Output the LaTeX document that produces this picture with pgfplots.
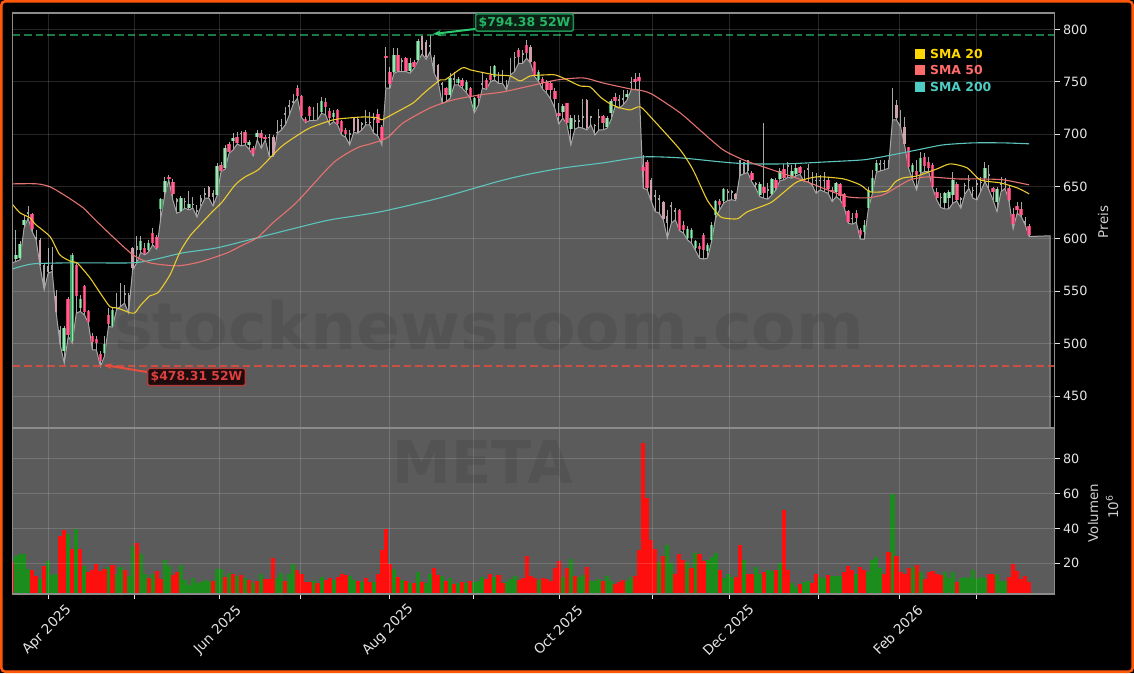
\documentclass[border=0pt]{standalone}
\usepackage{pgfplots}
\usepackage{pgfplotstable}
\usepackage{fontspec}
\setmainfont{DejaVu Sans}
\pgfplotsset{compat=1.18}
\usetikzlibrary{arrows.meta}
\definecolor{areac}{HTML}{5B5B5B}
\definecolor{spinec}{HTML}{8C8C8C}
\definecolor{tickc}{HTML}{E4E4E4}
\definecolor{labc}{HTML}{D0D0D0}
\definecolor{wick}{HTML}{A6A6A6}
\definecolor{smaA}{HTML}{EBCB2E}
\definecolor{smaB}{HTML}{E4726F}
\definecolor{smaC}{HTML}{5CC4BC}
\definecolor{legA}{HTML}{FFD700}
\definecolor{legB}{HTML}{FF6B6B}
\definecolor{legC}{HTML}{4ECDC4}
\definecolor{hiC}{HTML}{2ECC71}
\definecolor{hiT}{HTML}{27B565}
\definecolor{hiE}{HTML}{1F9150}
\definecolor{loC}{HTML}{E74C3C}
\definecolor{loT}{HTML}{DC4040}
\definecolor{loE}{HTML}{B03A3A}
\definecolor{volG}{HTML}{1C8C1C}
\definecolor{volR}{HTML}{FF0E0E}
\definecolor{upE}{HTML}{3F9E62}
\definecolor{upF}{HTML}{A8DDB8}
\definecolor{dnE}{HTML}{D93A68}
\definecolor{dnF}{HTML}{FF5F8F}
\pgfplotstableread{
i k o c h l
-0.87 9 572 572 572 572
-1 0 579 578 605.5 577
0 1 580.7 584.8 608.7 578.5
1 1 581.7 595.3 597.6 580.1
2 1 613.5 618.2 623 610.3
3 0 624.6 625.6 631.6 619.8
4 -1 624 609.3 624.6 607.1
5 0 601.7 600.7 608.7 599.2
6 2 599.2 575.3 600.7 573.7
7 0 575.3 553 576.9 551.5
8 0 573.7 568.9 591.2 567.4
9 0 575.3 570.5 592.2 568.9
10 2 545.1 529.8 551.5 529.2
11 0 513.3 500.6 516.5 499
12 1 492.6 514.9 516.5 481.5
13 -1 542.9 508.5 545 507
14 1 502.2 584.8 586.4 500.6
15 -1 575.3 545.1 576.9 529.2
16 1 534 542.9 546.7 530.8
17 -1 555.3 529.8 555.9 527.6
18 -1 530.8 520.3 532.4 519.7
19 -1 507.6 501.2 510.1 494.2
20 -1 504.4 500.6 506.9 494.2
21 -1 490.4 483.1 492.6 478.3
22 1 491 499.6 506.9 487.9
23 -1 527.6 519 534 516.5
24 1 517.1 532.4 534 515.8
25 0 540.3 538.7 548.3 532.4
26 0 545 543.5 557.8 535.6
27 0 548.3 546.7 556.2 538.7
28 0 546.7 535.6 548.3 529.2
29 2 591.2 572.1 592.2 570.5
30 0 592.8 589.6 603 576.9
31 1 589.6 597.6 603 587.1
32 -1 591.2 585.8 596 584.9
33 1 589 596 599.2 587.7
34 -1 605.5 596.6 610 594.4
35 -1 602.3 591.2 603.9 590.3
36 1 629 638 638.9 619.8
37 1 644.6 655.4 659.6 642.1
38 -1 659.6 657.4 661.2 656.4
39 -1 653.9 642.7 657 637.3
40 0 638 635.7 638.9 624.6
41 1 627.1 638.9 641.1 626.2
42 0 636.4 635.1 638.9 629.4
43 1 630 633.5 645.3 627.8
44 0 633.5 632.6 640.5 629.4
45 0 627.8 626.2 632.6 620.8
46 0 638.9 635.7 642.1 631
47 0 643.7 642.1 648.4 638.9
48 2 650 640.5 650.7 638.9
49 0 643.7 640.5 646.9 631.6
50 1 642.1 669.8 672.3 641.4
51 -1 670.4 665.3 673.3 664.4
52 1 667.5 686.6 689.8 666.6
53 -1 690.7 683.1 693 681.8
54 1 693.6 696.1 700.9 685
55 -1 697.1 692 702.5 690.7
56 0 701.2 700.3 703.5 688.8
57 -1 702.5 692 704 689.8
58 1 689.8 692.3 694.6 685.7
59 -1 686.6 680.9 688.8 679.3
60 1 697.7 700.9 704 694.6
61 -1 700.9 696.1 704 686.6
62 -1 697.1 695.2 699.3 694.6
63 0 697.7 696.2 700.3 678.7
64 2 697.7 680.2 699.3 678.7
65 0 702.5 701.6 713.6 700.9
66 0 708.9 707.9 714.3 704.1
67 0 720 718.4 725.7 708.9
68 0 727.9 726.4 732.7 718.4
69 0 732 730 738 729
70 -1 743.9 736.5 747 734.3
71 -1 736.5 717.5 737.5 716.2
72 -1 714.3 712.1 716.2 711.1
73 -1 725.7 717.5 727 713
74 0 717.5 716.2 725.7 713
75 0 721.6 720 729.5 713.6
76 1 721.6 731.8 735.9 720
77 -1 730.5 726.4 734.3 718.4
78 -1 722.2 715.9 724.8 708.9
79 1 716.2 720 723.2 712.1
80 -1 723.2 709.8 723.8 708.9
81 -1 712.7 702.5 713.6 699.3
82 -1 704.1 700.3 705.7 697.1
83 0 700.9 699.3 704.1 689.8
84 2 715.2 703.1 716.2 701.9
85 2 714.6 702.5 716.2 700.9
86 0 710.5 708.9 712 704.1
87 0 712 710.5 723.2 708.9
88 0 712 710.5 721.6 708.9
89 0 715.2 713.6 720 700.9
90 -1 719.4 711.1 723.8 698.4
91 -1 707.3 694.6 708.9 689.8
92 -1 774.7 772.5 783.6 743.9
93 -1 759.8 748 764.5 743.9
94 1 759.1 775.3 782 758.2
95 -1 775.6 760.7 782 759.8
96 0 770.9 769.3 772.5 759.8
97 -1 772.5 760.7 774 759.8
98 1 760.7 767.7 772.5 758.2
99 -1 769.3 764.5 770.9 762.9
100 1 770.9 789.3 790.6 770.2
101 2 794 780 794.2 776.6
102 2 788.4 774 790 771.5
103 0 785.2 783.6 794.38 778.8
104 0 774 761.3 775.6 758.2
105 2 766.1 751.8 767 750.2
106 0 748.6 747 750.2 729.5
107 -1 743.9 737.5 745.4 731.1
108 1 737.5 753.4 758.2 734.3
109 0 753.4 752.4 759.8 747
110 1 749.3 752.8 755 747
111 -1 751.8 746.4 753.4 743.9
112 1 742.3 750.2 751.8 739.7
113 -1 743.9 736.5 745.4 734.3
114 1 723.8 734.3 735.9 720.6
115 -1 736.5 734.3 738.4 727.9
116 0 748.6 747 758.2 743.9
117 -1 751.8 743.9 753.4 742.9
118 -1 756.6 751.8 765.2 750.2
119 1 755 765.2 766.1 751.8
120 0 756.6 755 759.8 748.6
121 0 758.2 756.6 761.3 748.6
122 0 750.2 748.6 751.8 742.3
123 0 764.5 762.9 772.5 756.6
124 0 774 772.5 778.8 759.8
125 -1 780.4 774 782 767.7
126 0 777.2 775.6 780.4 767.7
127 -1 785.2 777.2 790 772.5
128 2 783.6 769.3 785.2 767.7
129 -1 768.7 756.6 770.2 755
130 1 751.8 759.8 761.3 750.2
131 -1 752.5 748.7 754.4 742.9
132 -1 750.3 742.3 751.8 739.1
133 -1 749.3 742.3 751.2 733.4
134 -1 741.7 733.4 743.9 724.8
135 -1 720.7 716.9 729.6 709.9
136 1 721.6 727 728.9 715.3
137 -1 729.6 710.5 730.2 709.9
138 1 704.8 715.3 718.5 689.8
139 0 713.7 712.1 718.5 704.8
140 0 713.7 712.1 718.5 706.7
141 0 716.9 715.3 733.4 705.7
142 2 732.8 705.7 733.4 704.1
143 0 716.9 715.3 717.5 708.9
144 0 708.9 708 709.9 699.4
145 0 716.9 715.9 724.2 704.1
146 -1 716.9 711.1 718.5 704.1
147 1 706.7 715.9 717.5 705.7
148 1 720.7 731.8 733.4 713.7
149 -1 735.3 732.1 739.1 726.4
150 0 733.4 732.4 737.5 724.8
151 0 734.4 733.4 742.3 728
152 1 735.9 738.2 742.3 732.8
153 0 750.3 749.3 755 742.3
154 -1 752.5 750.3 758.2 742.9
155 -1 754.4 751.2 758.8 742.3
156 -1 668.5 665.3 680.3 648.5
157 -1 673.9 648.5 675.5 646.9
158 2 656.4 637.4 658 635.8
159 0 642.1 640.5 646.9 626.2
160 0 639 637.4 642.1 624.6
161 2 635.1 618.9 635.8 618.3
162 0 622 615.1 627.8 600.8
163 0 632.6 631 634.8 615.1
164 0 627.8 626.2 629.4 618.3
165 -1 627.8 608.7 628.5 608.1
166 -1 613.5 608.7 616.7 605.6
167 1 600.8 609.4 611.9 599.2
168 1 600.8 608.7 610.3 596
169 1 591.3 597.6 599.2 589
170 -1 593.5 590.3 596 581.7
171 -1 604 589 605.6 580.8
172 1 588.1 594.4 596 581.7
173 1 598.6 613.5 615.7 597.6
174 1 623 636.4 637.4 619.9
175 -1 636.7 632.6 638 627.8
176 1 635.8 647.5 648.5 634.2
177 0 645.3 643.7 647.5 636.7
178 0 645.3 643.7 646.9 637.4
179 2 643.1 638 643.7 636.7
180 0 674.9 661.2 675.5 660.3
181 0 673 663.4 673.9 662.2
182 0 674.9 664.4 675.5 663.4
183 -1 663.4 655.8 664.4 654.8
184 0 653.3 652.3 654.8 648.5
185 1 642.1 652.6 653.9 640.5
186 -1 649.4 643.7 710.5 638.9
187 0 647.5 645.3 653.3 638
188 1 643.1 657.1 658 642.1
189 -1 656.4 648.5 658 646.9
190 1 657.1 664.4 667.6 655.8
191 -1 666.6 658 671.7 656.4
192 0 670.8 669.2 673.9 659
193 1 659.6 665 670.8 658
194 1 662.2 667.6 672.3 660.3
195 -1 668.5 663.4 669.7 661.8
196 0 657 656 665.9 654.8
197 0 667.5 666.5 671.3 654.8
198 0 659.6 658.6 664.3 651.6
199 0 656.4 655.4 662.7 643.6
200 0 656.4 655.4 661.1 646.8
201 0 656.4 655.4 664.3 645.2
202 -1 656.4 647.8 658 643.6
203 -1 646.8 644.6 650 635.7
204 1 645.2 653.2 654.8 640.5
205 -1 652.2 641.1 653.2 637.3
206 -1 642.7 630.9 643.6 630
207 -1 626.8 616 627.8 615
208 0 620.4 619.2 624.6 614.1
209 -1 624.6 620.4 627.8 616
210 -1 608.7 604.2 610.9 599.8
211 1 606.4 613.4 618.2 599.8
212 1 629.3 646.8 650 628.7
213 1 644.6 658.6 665.9 643.6
214 1 665 672.3 675.5 663.7
215 0 672.3 671.3 675.5 665
216 0 672.8 672 675.5 666
217 0 673.9 672.9 675.5 667.5
218 0 737.5 736.5 743.8 713.6
219 2 727.9 715.2 732.7 713.6
220 0 715.2 714.2 723.2 707.3
221 2 707.3 690.4 716.8 689.8
222 -1 687.5 669.1 688.2 667.5
223 1 663.7 670.7 672.3 656.4
224 -1 665.3 661.1 675.5 646.8
225 1 663.7 677 683.4 662.7
226 -1 678.6 669.7 681.8 664.3
227 -1 673.9 668.1 678.6 664.3
228 -1 670.7 650 672.3 648.4
229 -1 645.2 639.5 648.4 637.3
230 0 640.5 639.5 643.6 630
231 1 634 643.6 645.2 628.7
232 1 638.9 644.6 646.8 628.7
233 1 642.1 656.4 663.7 634
234 -1 652.6 637.3 654.8 636.3
235 0 638.9 637.9 640.5 629.3
236 0 651.6 650.6 653.2 642.7
237 0 656.4 655.4 661.1 648.4
238 0 646.8 645.9 649.4 638.9
239 0 653.2 652.2 656.4 637.3
240 0 654.8 653.8 659.6 645.9
241 1 658 667.5 673.2 654.8
242 0 661.8 660.5 670.7 646.8
243 -1 648.4 644.6 650 637.3
244 1 635.1 647.5 650 626.2
245 0 653.2 652.2 659.6 645.2
246 0 654.8 653.8 658.6 648.4
247 -1 648.4 637.3 651.6 635.7
248 -1 623.6 614 629.3 609.6
249 -1 631.9 628.1 635.7 624.6
250 -1 628.7 623 635.7 621.4
251 0 616.9 616 621.4 613.4
252 -1 612.2 603.9 614.1 602.3
257.2 9 603 603 603 603
257.2 9 400 400 400 400
}\candles
\pgfplotstableread{
i v
-0.75 632.5
1 624.9
3.5 620.1
4.7 614.4
8.5 602
10.9 584.8
13.9 578.1
15.2 577.2
18.4 562.9
20.9 548.6
23.4 535.2
25.1 534.2
28.4 529.5
29.6 529.5
30.9 536.2
33.3 545.7
35.3 548.6
38.3 565.7
40.8 587.7
43.3 603
45.8 613.5
48.8 625.9
51.3 635.4
54.5 651.6
57 659.3
60.2 665.9
63.2 677.4
66.2 688.8
69.4 697.4
73.1 706
78.9 713.7
83.1 715.6
86.8 716.5
90.1 715.6
91 713.7
94.3 720.3
98.8 729.9
101.8 740.4
105.5 751.8
106.7 751.8
111 763.3
113 761.4
115.4 759.4
119.2 756.6
122.9 755.6
125.4 750.8
127.9 755.6
131.6 756.6
134.1 756.6
136.6 752.8
140.3 746.1
142.8 745.1
145.3 735.6
147.8 728.9
150.3 725.1
152.8 723.2
155.3 726.1
158.5 713.7
165.2 685
168.4 665.9
171.9 637.3
174.7 623
175.9 620.1
179.4 619.2
181.9 625.9
187.6 634.4
190.8 644
194.3 654.5
199.3 659.3
205.8 657.3
210 651.6
212.5 644.9
216.7 645.9
218.7 654.5
220.7 658.3
224.2 660.2
229.1 666.9
232.4 671.7
236.6 667.8
239.8 656.4
244.8 653.5
249 648.8
252 643
}\smaa
\pgfplotstableread{
i v
-0.75 652.6
5.2 652.6
8.5 649.7
12.7 640.2
16.7 629.7
19.2 620.1
24.1 602
29.1 584.8
33.3 577.2
40.1 574.3
45.8 578.1
52.5 586.7
56.5 594.4
60 601.1
63.9 615.4
69.9 635.4
78.9 672.6
84.8 686.9
88.1 690.7
92.3 696.5
96.3 710.8
103 725.1
108.7 732.7
115.4 737.5
121.2 740.4
127.9 746.1
134.6 751.8
141.1 753.7
146 748.9
152.8 743.2
156 741.3
158.5 737.5
165.2 720.3
170.9 701.2
175.9 685
180.9 675.5
185.9 668.8
191.8 661.2
196.8 654.5
201.8 646.8
206.8 640.2
211.7 639.2
215.7 642.1
219.2 649.7
222.4 656.4
226.7 659.2
234.1 657.3
239.8 657.3
245.6 656.4
252 651.6
}\smab
\pgfplotstableread{
i v
-0.75 571.5
4.2 576.2
14.2 577.2
29.1 577.2
35.1 581
41.5 586.7
50 591.5
60 601.1
70.7 611.5
78.1 618.2
90.6 625.9
105.5 639.2
120.4 655.4
127.9 662.1
136.1 667.8
146 672.6
156 678.3
165.2 677.4
175.2 673.6
181.9 671.7
191.8 671.7
201.8 673.6
210.7 675.5
216.7 679.3
224.2 685
230.6 689.8
238.1 691.7
245.6 691.7
252 690.8
}\smac
\pgfplotstableread{
i v
0 24
1 25
2 25.5
3 16.4
6 11
8 21.3
9 13
10 13.7
13 37
15 39.4
17 18.3
23 17.5
25 14
26 17.5
28 12.5
29 29.8
31 25.2
32 14
34 13.7
37 22
38 18.5
41 18.9
42 10.2
43 7.4
44 11.6
45 8.3
46 9
47 10
48 9.7
50 16.6
51 16.6
53 14.4
55 12.5
57 11.6
59 8.3
61 14
65 11.6
66 14.4
68 14
69 19.4
74 9.8
76 11.8
79 10.2
83 12.5
84 10.2
86 8.9
89 9.3
94 16.6
96 10.2
98 8.3
100 15
102 8.7
103 13.7
106 12.5
108 11.2
110 8.3
112 8.3
114 9.3
115 9.5
116 11.8
119 11.8
122 9.3
123 10.6
124 12.5
130 10.2
136 12.1
138 22.3
140 11.8
141 13.1
143 9.7
144 9.7
145 10.6
147 12.5
148 9.8
152 9.7
153 12.1
160 20.4
162 30.3
163 20.2
167 20.8
169 25.9
172 21.7
173 23.6
174 25.6
176 11.6
177 13.7
178 12.1
181 21.7
184 17.5
185 13.7
187 16
188 15.6
190 20.2
193 8.7
194 6.4
196 8.9
197 9.7
200 12.1
201 11.6
203 12.3
204 12.3
205 12.3
209 13.7
212 15
213 21.7
214 23.6
215 16.9
218 60
223 17.9
225 15
231 15
232 11.2
233 14.6
235 11.2
236 11.8
237 11.4
238 16
239 10.8
240 12.1
241 11.2
244 14
245 9.8
246 9.8
}\volup
\pgfplotstableread{
i v
-1 20.8
4 16
5 12.5
7 18.3
11 35.5
12 39
14 28.4
16 28.4
18 14.6
19 16
20 19.4
21 15.6
22 16.4
24 18.9
27 16
30 31.3
33 11.4
35 15.4
36 11
39 13
40 14.8
49 9.7
52 11.8
54 13.7
56 13
58 10.2
60 9.7
62 10.8
63 10.8
64 23
67 9.7
70 16
71 14
72 9.3
73 9
75 8.7
77 10.2
78 11.2
80 12.1
81 13.7
82 12.9
85 9.7
87 11.2
88 9.3
90 13.7
91 27.5
92 39.5
93 19.4
95 12.1
97 9.7
99 8.3
101 9.3
104 16.9
105 13.1
107 9.7
109 7.7
111 9.3
113 9.7
117 10.6
118 13.7
120 13.1
121 8.7
125 10.2
126 11.2
127 24
128 12.5
129 11.2
131 11.4
132 10.6
133 9.8
134 16.9
135 21.3
137 16.9
139 12.5
142 17.9
146 9.8
149 7.9
150 9.3
151 10.2
154 12.5
155 27.5
156 89.2
157 57.2
158 33.2
159 28
161 24
164 13.7
165 25.2
166 21.7
168 17.3
170 25.2
171 21.3
175 16
179 11.8
180 30.3
182 13.7
183 13.7
186 14.8
189 16
191 50.5
192 16
195 7.9
198 8.3
199 14
202 12.9
206 15
207 18.5
208 16
210 17.5
211 16
216 13.7
217 26.5
219 24
220 15
221 14
222 17.1
224 18.9
226 11
227 15
228 15.6
229 13.5
230 13.1
234 9.1
242 13.7
243 13.7
247 11.8
248 19.4
249 15.4
250 10.8
251 12.5
252 9.1
}\voldn
\newcommand{\fs}[1]{\fontsize{#1}{#1}\selectfont}
\pgfplotsset{
 panel/.style={
  scale only axis, width=1042pt,
  xmin=-0.87, xmax=258.3,
  xtick={8.08,29.5,50.6,70.8,92.9,113.9,135.2,158.2,177.5,199.7,219.7,238.8},
  ytick pos=right, xtick pos=bottom,
  tick align=outside, major tick length=5pt,
  axis on top,
  grid=both,
  grid style={white,opacity=0.15,line width=0.9pt},
  axis line style={draw=spinec,line width=1.3pt},
  tick style={draw=tickc,line width=1pt},
  tick label style={font=\fs{12.8},text=tickc},
  /pgf/number format/assume math mode=true,
 },
 candlebody/.style n args={3}{draw=none,mark=none,forget plot,
  error bars/.cd,y dir=both,y explicit,error mark=none,
  error bar style={solid,line width=#2pt,color=#3}},
}
\newcommand{\candleplot}[3]{%
 \addplot[candlebody={}{#2}{#3}] table[x=i,
   y expr={\thisrow{k}==#1 ? (\thisrow{o}+\thisrow{c})/2 : nan},
   y error expr={abs(\thisrow{o}-\thisrow{c})/2}]{\candles};}
\begin{document}
\begin{tikzpicture}[x=1pt,y=1pt]
\path[use as bounding box] (0,0) rectangle (1134,673);
\fill[black] (0,0) rectangle (1134,673);
\draw[line width=2.6pt,color={rgb,255:red,255;green,88;blue,10},rounded corners=4pt] (1.3,1.3) rectangle (1132.7,671.7);
% price panel
\begin{axis}[panel, at={(12.5pt,245pt)}, anchor=south west, height=415pt,
  ymin=419.5, ymax=815.7, ytick={450,500,550,600,650,700,750,800},
  xticklabels={}, xtick style={draw=none}]
\addplot[fill=areac,draw=none,forget plot] table[x=i,y=l]{\candles} \closedcycle;
\addplot[draw=wick,line width=1pt,forget plot] table[x=i,y=l]{\candles};
% wicks
\addplot[draw=none,mark=none,forget plot,
  error bars/.cd,y dir=both,y explicit,error mark=none,
  error bar style={solid,line width=1pt,color=wick}]
  table[x=i,
   y expr={\thisrow{k}==9 ? nan : (\thisrow{h}+\thisrow{l})/2},
   y error expr={(\thisrow{h}-\thisrow{l})/2}]{\candles};
\candleplot{0}{1.9}{wick}
\candleplot{2}{2.4}{{rgb,255:red,205;green,160;blue,170}}
\candleplot{1}{3.6}{upE}
\candleplot{1}{1.5}{upF}
\candleplot{-1}{3.6}{dnE}
\candleplot{-1}{1.6}{dnF}
\addplot[smaC,line width=1.1pt,line join=round,smooth,tension=0.4] table[x=i,y=v]{\smac};
\addplot[smaB,line width=1.1pt,line join=round,smooth,tension=0.4] table[x=i,y=v]{\smab};
\addplot[smaA,line width=1.1pt,line join=round,smooth,tension=0.4] table[x=i,y=v]{\smaa};
\addplot[hiC,opacity=0.6,line width=2pt,dash pattern=on 7.5pt off 4pt] coordinates {(-0.87,794.38)(258.3,794.38)};
\addplot[loC,opacity=0.8,line width=2pt,dash pattern=on 7.5pt off 4pt] coordinates {(-0.87,478.31)(258.3,478.31)};
\end{axis}
% volume panel
\begin{axis}[panel, at={(12.5pt,79pt)}, anchor=south west, height=166pt,
  ymin=2.2, ymax=97.8, ytick={20,40,60,80},
  axis background/.style={fill=areac},
  xticklabels={Apr 2025,,Jun 2025,,Aug 2025,,Oct 2025,,Dec 2025,,Feb 2026,},
  xticklabel style={font=\fs{13.6},rotate=45,anchor=center,xshift=-23pt,yshift=-21pt}]
\addplot[ycomb,draw=volG,line width=4.1pt,mark=none] table[x=i,y=v]{\volup};
\addplot[ycomb,draw=volR,line width=4.1pt,mark=none] table[x=i,y=v]{\voldn};
\end{axis}
% watermarks
\node[font=\bfseries\fs{65},text=black,opacity=0.08] at (489,348) {stocknewsroom.com};
\node[font=\bfseries\fs{59},text=black,opacity=0.08] at (483,211) {META};
% annotations
\draw[hiC,line width=2pt,-{Stealth[length=8pt,width=6pt]}] (475,644) -- (433,639);
\node[font=\bfseries\fs{12.4},text=hiT,fill={rgb,255:red,10;green,30;blue,20},draw=hiE,line width=1.6pt,rounded corners=2pt,inner xsep=3pt,inner ysep=3pt,anchor=center] at (524.5,650.5) {\$794.38 52W};
\draw[loC,line width=2pt,-{Stealth[length=8pt,width=6pt]}] (147,301) -- (104,308);
\node[font=\bfseries\fs{12.4},text=loT,fill={rgb,255:red,30;green,12;blue,12},draw=loE,line width=1.6pt,rounded corners=2pt,inner xsep=3pt,inner ysep=3pt,anchor=center] at (196.5,296) {\$478.31 52W};
% legend
\fill[legA] (915,614) rectangle (925,624);
\node[font=\bfseries\fs{12.4},text=legA,anchor=west,inner sep=0pt] at (930,619.5) {SMA 20};
\fill[legB] (915,598) rectangle (925,608);
\node[font=\bfseries\fs{12.4},text=legB,anchor=west,inner sep=0pt] at (930,603) {SMA 50};
\fill[legC] (915,581) rectangle (925,591);
\node[font=\bfseries\fs{12.4},text=legC,anchor=west,inner sep=0pt] at (930,586) {SMA 200};
% axis labels
\node[font=\fs{13.4},text=labc,rotate=90] at (1103,451) {Preis};
\node[font=\fs{13.4},text=labc,rotate=90] at (1093,160) {Volumen};
\node[font=\fs{13.4},text=labc,rotate=90] at (1112,166) {10\textsuperscript{6}};
\end{tikzpicture}
\end{document}
